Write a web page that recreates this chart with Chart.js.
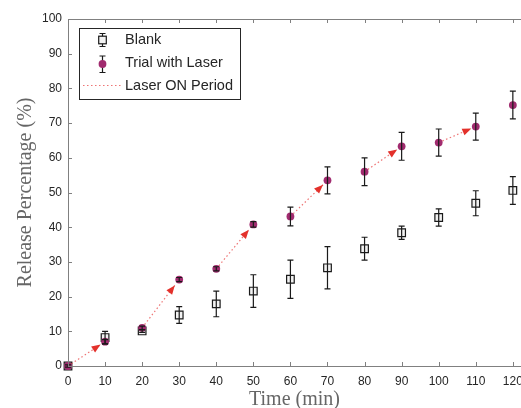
<!DOCTYPE html>
<html>
<head>
<meta charset="utf-8">
<script src="https://cdn.jsdelivr.net/npm/chart.js@4.4.0/dist/chart.umd.min.js"></script>
<style>
  html, body { margin: 0; padding: 0; background: #fff; }
  #wrap { width: 521px; height: 408px; }
</style>
</head>
<body>
<div id="wrap"><canvas id="releaseChart"></canvas></div>
<script>
// Data (time in min, release in %)
const times = [0, 10, 20, 30, 40, 50, 60, 70, 80, 90, 100, 110, 120];
const blankValues = [0, 8.2, 10.1, 14.7, 17.9, 21.6, 25.0, 28.3, 33.8, 38.4, 42.8, 46.9, 50.6];
const blankErrors = [0, 1.8, 0.4, 2.4, 3.7, 4.7, 5.5, 6.1, 3.3, 1.9, 2.5, 3.6, 4.0];
const laserValues = [0, 7.0, 11.0, 24.9, 28.0, 40.8, 43.1, 53.5, 56.0, 63.3, 64.4, 69.0, 75.2];
const laserErrors = [0.3, 0.6, 0.5, 0.6, 0.6, 0.8, 2.7, 3.9, 4.0, 4.0, 3.9, 3.9, 4.0];
// laser switched on between these times (index into times)
const laserOnStart = [0, 2, 4, 6, 8, 10];
const laserOnEnd = [1, 3, 5, 7, 9, 11];
const xTicks = [0, 10, 20, 30, 40, 50, 60, 70, 80, 90, 100, 110, 120];
const yTicks = [0, 10, 20, 30, 40, 50, 60, 70, 80, 90, 100];

const ARROW_FRAC = 0.88; // quiver style: arrow stops a bit before the point
const arrowRed = "#e3312b";
const purple = "#a12b6f";
const dotted = "rgba(232, 70, 70, 0.75)";

const toPoints = (xs, ys) => xs.map((t, i) => ({ x: t, y: ys[i] }));

// one dotted dataset per laser ON segment
const laserSegments = laserOnStart.map((s, k) => {
    const e = laserOnEnd[k];
    const x0 = times[s], y0 = laserValues[s];
    const x1 = x0 + (times[e] - x0) * ARROW_FRAC;
    const y1 = y0 + (laserValues[e] - y0) * ARROW_FRAC;
    return {
        label: "Laser ON Period",
        data: [{ x: x0, y: y0 }, { x: x1, y: y1 }],
        showLine: true,
        borderColor: dotted,
        borderWidth: 1.2,
        borderDash: [1.5, 2.5],
        pointRadius: 0,
        order: 1,
        clip: false
    };
});

// error bars, arrowheads, frame and legend
const extras = {
    id: "extras",
    afterDatasetsDraw(chart) {
        const { ctx, scales: { x, y } } = chart;
        ctx.save();
        ctx.strokeStyle = "#1a1a1a";
        ctx.lineWidth = 1.2;
        const bars = (vals, errs) => {
            vals.forEach((v, i) => {
                if (!errs[i]) return;
                const px = x.getPixelForValue(times[i]);
                const top = y.getPixelForValue(v + errs[i]);
                const bot = y.getPixelForValue(v - errs[i]);
                ctx.beginPath();
                ctx.moveTo(px, top); ctx.lineTo(px, bot);
                ctx.moveTo(px - 3, top); ctx.lineTo(px + 3, top);
                ctx.moveTo(px - 3, bot); ctx.lineTo(px + 3, bot);
                ctx.stroke();
            });
        };
        bars(blankValues, blankErrors);
        bars(laserValues, laserErrors);

        // arrowheads at the end of each dotted segment
        ctx.fillStyle = arrowRed;
        laserSegments.forEach(seg => {
            const a = seg.data[0], b = seg.data[1];
            const ax = x.getPixelForValue(a.x), ay = y.getPixelForValue(a.y);
            const bx = x.getPixelForValue(b.x), by = y.getPixelForValue(b.y);
            const ang = Math.atan2(by - ay, bx - ax);
            const len = 9, half = 3.6;
            ctx.beginPath();
            ctx.moveTo(bx, by);
            ctx.lineTo(bx - len * Math.cos(ang) + half * Math.sin(ang), by - len * Math.sin(ang) - half * Math.cos(ang));
            ctx.lineTo(bx - len * Math.cos(ang) - half * Math.sin(ang), by - len * Math.sin(ang) + half * Math.cos(ang));
            ctx.closePath();
            ctx.fill();
        });
        ctx.restore();
    },
    afterDraw(chart) {
        const { ctx, chartArea: a, scales: { x, y } } = chart;
        ctx.save();
        // axes box (right edge is outside the picture)
        ctx.strokeStyle = "#808080";
        ctx.lineWidth = 1;
        ctx.beginPath();
        ctx.moveTo(a.right + 1, a.top + 0.5);
        ctx.lineTo(a.left + 0.5, a.top + 0.5);
        ctx.lineTo(a.left + 0.5, a.bottom + 0.5);
        ctx.lineTo(a.right + 1, a.bottom + 0.5);
        ctx.stroke();
        // inward ticks
        ctx.beginPath();
        xTicks.forEach(t => {
            const px = Math.round(x.getPixelForValue(t)) + 0.5;
            ctx.moveTo(px, a.bottom); ctx.lineTo(px, a.bottom - 4);
            ctx.moveTo(px, a.top); ctx.lineTo(px, a.top + 4);
        });
        yTicks.forEach(v => {
            const py = Math.round(y.getPixelForValue(v)) + 0.5;
            ctx.moveTo(a.left, py); ctx.lineTo(a.left + 4, py);
        });
        ctx.stroke();

        // legend
        const lx = 79.5, ly = 28.5, lw = 161, lh = 71;
        ctx.fillStyle = "#fff";
        ctx.fillRect(lx, ly, lw, lh);
        ctx.strokeStyle = "#262626";
        ctx.lineWidth = 1;
        ctx.strokeRect(lx, ly, lw, lh);
        const ix = 102.5;
        ctx.strokeStyle = "#1a1a1a";
        ctx.lineWidth = 1.2;
        ctx.beginPath();
        [[33.5, 46.5], [56, 72.5]].forEach(([t, b]) => {
            ctx.moveTo(ix, t); ctx.lineTo(ix, b);
            ctx.moveTo(ix - 3, t); ctx.lineTo(ix + 3, t);
            ctx.moveTo(ix - 3, b); ctx.lineTo(ix + 3, b);
        });
        ctx.stroke();
        ctx.fillStyle = "#f2f2f2";
        ctx.fillRect(ix - 3.8, 40 - 3.8, 7.6, 7.6);
        ctx.strokeRect(ix - 3.8, 40 - 3.8, 7.6, 7.6);
        ctx.fillStyle = purple;
        ctx.beginPath();
        ctx.arc(ix, 64, 3.9, 0, Math.PI * 2);
        ctx.fill();
        ctx.strokeStyle = dotted;
        ctx.setLineDash([1.5, 2.5]);
        ctx.beginPath();
        ctx.moveTo(83, 85.5); ctx.lineTo(122, 85.5);
        ctx.stroke();
        ctx.setLineDash([]);
        ctx.fillStyle = "#262626";
        ctx.font = "14.5px 'Liberation Sans', sans-serif";
        ctx.textBaseline = "middle";
        ctx.fillText("Blank", 125, 40);
        ctx.fillText("Trial with Laser", 125, 63);
        ctx.fillText("Laser ON Period", 125, 85.5);
        ctx.restore();
    }
};

const tickFont = { family: "'Liberation Sans', sans-serif", size: 12 };
const titleFont = { family: "'Liberation Serif', serif", size: 20, lineHeight: 1 };

new Chart(document.getElementById("releaseChart"), {
    type: "scatter",
    data: {
        datasets: [
            {
                label: "Trial with Laser",
                data: toPoints(times, laserValues),
                pointStyle: "circle",
                pointRadius: 3.9,
                pointHoverRadius: 3.9,
                backgroundColor: purple,
                borderColor: purple,
                borderWidth: 0,
                order: 0,
                clip: false
            },
            ...laserSegments,
            {
                label: "Blank",
                data: toPoints(times, blankValues),
                pointStyle: "rect",
                pointRadius: 5.4,
                pointHoverRadius: 5.4,
                backgroundColor: "#f2f2f2",
                borderColor: "#1a1a1a",
                borderWidth: 1.2,
                order: 2,
                clip: false
            }
        ]
    },
    options: {
        responsive: true,
        maintainAspectRatio: false,
        animation: false,
        events: [],
        layout: { autoPadding: false, padding: { top: 19, right: 0, left: 0, bottom: 0 } },
        plugins: { legend: { display: false }, tooltip: { enabled: false } },
        scales: {
            x: {
                type: "linear",
                min: 0,
                max: 122.2,
                afterBuildTicks: s => { s.ticks = xTicks.map(v => ({ value: v })); },
                grid: { display: false, drawTicks: false },
                border: { display: false },
                ticks: { padding: 8, font: tickFont, color: "#262626", maxRotation: 0 },
                title: { display: true, text: "Time (min)", font: titleFont, color: "#666", padding: { top: 0, bottom: -2 } },
                afterFit: s => { s.height = 42; s.paddingLeft = 0; s.paddingRight = 0; }
            },
            y: {
                type: "linear",
                min: 0,
                max: 100,
                afterBuildTicks: s => { s.ticks = yTicks.map(v => ({ value: v })); },
                grid: { display: false, drawTicks: false },
                border: { display: false },
                ticks: { padding: 6, font: tickFont, color: "#262626" },
                title: { display: true, text: "Release Percentage (%)", font: titleFont, color: "#666", padding: { top: 16, bottom: 0 } },
                afterFit: s => { s.width = 68; s.paddingTop = 0; s.paddingBottom = 0; }
            }
        }
    },
    plugins: [extras]
});
</script>
</body>
</html>
